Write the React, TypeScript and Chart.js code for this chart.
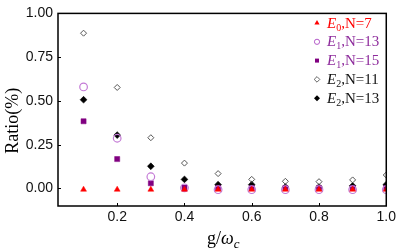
import React, { useEffect, useRef } from "react";
import { Chart, registerables } from "chart.js";

Chart.register(...registerables);

const gValues = [0.1, 0.2, 0.3, 0.4, 0.5, 0.6, 0.7, 0.8, 0.9, 1.0];
const e0N7 = [-0.006, -0.006, -0.006, -0.006, -0.006, -0.006, -0.006, -0.006, -0.006, -0.006];
const e1N13 = [0.58, 0.287, 0.067, 0.004, -0.007, -0.007, -0.007, -0.007, -0.007, -0.007];
const e1N15 = [0.384, 0.168, 0.03, 0.005, 0.003, 0.003, 0.003, 0.003, 0.003, 0.003];
const e2N11 = [0.887, 0.577, 0.29, 0.145, 0.085, 0.052, 0.041, 0.039, 0.049, 0.077];
const e2N13 = [0.507, 0.305, 0.127, 0.052, 0.022, 0.022, 0.008, 0.008, 0.015, 0.022];
const yTicks = [0, 0.25, 0.5, 0.75, 1.0];
const xTicks = [0.2, 0.4, 0.6, 0.8, 1.0];

const legendItems = [
  { sub: "0", rest: ",N=7", color: "#ff0000", marker: "triangle" },
  { sub: "1", rest: ",N=13", color: "#8e2c9c", marker: "circle" },
  { sub: "1", rest: ",N=15", color: "#8e2c9c", marker: "rect" },
  { sub: "2", rest: ",N=11", color: "#111111", marker: "diamondOpen" },
  { sub: "2", rest: ",N=13", color: "#111111", marker: "diamond" },
];

const SERIF = '"Liberation Serif", "Times New Roman", serif';
const SANS = '"Liberation Sans", Arial, sans-serif';

function toPts(ys: number[]) {
  return gValues.map((x, i) => ({ x, y: ys[i] }));
}

function drawMarker(ctx: CanvasRenderingContext2D, kind: string, x: number, y: number) {
  ctx.save();
  ctx.beginPath();
  if (kind === "triangle") {
    ctx.fillStyle = "#ff0000";
    ctx.moveTo(x, y - 3);
    ctx.lineTo(x + 2.6, y + 1.6);
    ctx.lineTo(x - 2.6, y + 1.6);
    ctx.closePath();
    ctx.fill();
  } else if (kind === "circle") {
    ctx.strokeStyle = "#b45cc8";
    ctx.lineWidth = 1;
    ctx.arc(x, y, 2.6, 0, Math.PI * 2);
    ctx.stroke();
  } else if (kind === "rect") {
    ctx.fillStyle = "#800080";
    ctx.rect(x - 2, y - 2, 4, 4);
    ctx.fill();
  } else if (kind === "diamondOpen") {
    ctx.strokeStyle = "#555";
    ctx.lineWidth = 0.9;
    ctx.moveTo(x, y - 2.8);
    ctx.lineTo(x + 2.8, y);
    ctx.lineTo(x, y + 2.8);
    ctx.lineTo(x - 2.8, y);
    ctx.closePath();
    ctx.stroke();
  } else {
    ctx.fillStyle = "#000";
    ctx.moveTo(x, y - 3);
    ctx.lineTo(x + 3, y);
    ctx.lineTo(x, y + 3);
    ctx.lineTo(x - 3, y);
    ctx.closePath();
    ctx.fill();
  }
  ctx.restore();
}

const decorPlugin = {
  id: "decor",
  afterDraw(chart: any) {
    const ctx: CanvasRenderingContext2D = chart.ctx;
    const { left, right, top, bottom } = chart.chartArea;
    const xs = chart.scales.x;
    const ys = chart.scales.y;
    ctx.save();
    // frame
    ctx.strokeStyle = "#000";
    ctx.lineWidth = 1.5;
    ctx.strokeRect(left, top, right - left, bottom - top);
    // inward ticks
    ctx.lineWidth = 1;
    ctx.beginPath();
    xTicks.forEach((v) => {
      const px = Math.round(xs.getPixelForValue(v)) + 0.5;
      ctx.moveTo(px, bottom);
      ctx.lineTo(px, bottom - 3);
    });
    yTicks.forEach((v) => {
      const py = Math.round(ys.getPixelForValue(v)) + 0.5;
      ctx.moveTo(left, py);
      ctx.lineTo(left + 3, py);
    });
    ctx.stroke();

    // y title
    ctx.save();
    ctx.translate(13, (top + bottom) / 2 + 11);
    ctx.rotate(-Math.PI / 2);
    ctx.fillStyle = "#000";
    ctx.font = `18px ${SERIF}`;
    ctx.textAlign = "center";
    ctx.textBaseline = "middle";
    ctx.fillText("Ratio(%)", 0, 0);
    ctx.restore();

    // x title g/ω_c
    ctx.fillStyle = "#000";
    ctx.textAlign = "left";
    ctx.textBaseline = "alphabetic";
    let cx = 207;
    const base = 244;
    ctx.font = `18px ${SERIF}`;
    ctx.fillText("g/", cx, base);
    cx += ctx.measureText("g/").width;
    ctx.font = `italic 18px ${SERIF}`;
    ctx.fillText("ω", cx, base);
    cx += ctx.measureText("ω").width;
    ctx.font = `italic 13px ${SERIF}`;
    ctx.fillText("c", cx, base + 4);

    // legend
    legendItems.forEach((it, i) => {
      const my = 23 + 18.8 * i;
      drawMarker(ctx, it.marker, 317, my);
      const bl = my + 4.5;
      let tx = 327;
      ctx.fillStyle = it.color;
      ctx.font = `italic 15px ${SERIF}`;
      ctx.fillText("E", tx, bl);
      tx += ctx.measureText("E").width;
      ctx.font = `10px ${SERIF}`;
      ctx.fillText(it.sub, tx, bl + 3);
      tx += ctx.measureText(it.sub).width;
      ctx.font = `15px ${SERIF}`;
      ctx.fillText(it.rest, tx, bl);
    });
    ctx.restore();
  },
};

export default function App() {
  const ref = useRef<HTMLCanvasElement | null>(null);
  useEffect(() => {
    document.body.style.margin = "0";
    const canvas = ref.current;
    if (!canvas) return;
    const chart = new Chart(canvas, {
      type: "scatter",
      data: {
        datasets: [
          {
            label: "E0,N=7",
            data: toPts(e0N7),
            pointStyle: "triangle",
            pointRadius: 3.4,
            backgroundColor: "#ff0000",
            borderColor: "#ff0000",
            borderWidth: 0.5,
            clip: 0,
          },
          {
            label: "E1,N=13",
            data: toPts(e1N13),
            pointStyle: "circle",
            pointRadius: 3.8,
            backgroundColor: "rgba(0,0,0,0)",
            borderColor: "#c47ad6",
            borderWidth: 1.2,
            clip: 0,
          },
          {
            label: "E1,N=15",
            data: toPts(e1N15),
            pointStyle: "rect",
            pointRadius: 3.6,
            backgroundColor: "#800080",
            borderColor: "#800080",
            borderWidth: 0.5,
            clip: 0,
          },
          {
            label: "E2,N=11",
            data: toPts(e2N11),
            pointStyle: "rectRot",
            pointRadius: 3,
            backgroundColor: "rgba(255,255,255,0)",
            borderColor: "#555555",
            borderWidth: 1,
            clip: 0,
          },
          {
            label: "E2,N=13",
            data: toPts(e2N13),
            pointStyle: "rectRot",
            pointRadius: 3.4,
            backgroundColor: "#000000",
            borderColor: "#000000",
            borderWidth: 0.6,
            clip: 0,
          },
        ],
      },
      options: {
        animation: false,
        responsive: false,
        maintainAspectRatio: false,
        layout: { padding: { top: 8, right: 12, left: 0, bottom: 0 } },
        plugins: {
          legend: { display: false },
          tooltip: { enabled: false },
        },
        scales: {
          x: {
            type: "linear",
            min: 0.024,
            max: 1.0,
            grid: { display: false, drawTicks: false },
            border: { display: false },
            afterBuildTicks: (s: any) => {
              s.ticks = xTicks.map((v) => ({ value: v }));
            },
            afterFit: (s: any) => {
              s.height = 46;
            },
            ticks: {
              padding: 3,
              color: "#111",
              font: { family: SANS, size: 14 },
              maxRotation: 0,
              callback: (v: any) => Number(v).toFixed(1),
            },
          },
          y: {
            type: "linear",
            min: -0.1,
            max: 1.0,
            grid: { display: false, drawTicks: false },
            border: { display: false },
            afterBuildTicks: (s: any) => {
              s.ticks = yTicks.map((v) => ({ value: v }));
            },
            afterFit: (s: any) => {
              s.width = 58;
            },
            ticks: {
              padding: 5,
              color: "#111",
              font: { family: SANS, size: 14 },
              callback: (v: any) => Number(v).toFixed(2),
            },
          },
        },
      },
      plugins: [decorPlugin],
    } as any);
    return () => chart.destroy();
  }, []);
  return (
    <div style={{ position: "fixed", left: 0, top: 0, width: 399, height: 252 }}>
      <canvas ref={ref} width={399} height={252} style={{ width: 399, height: 252, display: "block" }} />
    </div>
  );
}
